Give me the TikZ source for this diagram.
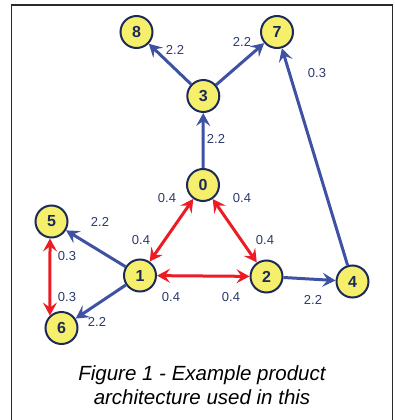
\documentclass[tikz,border=0pt]{standalone}
\usepackage{fontspec}
\setmainfont{Liberation Sans}
\usetikzlibrary{arrows.meta}
\definecolor{nodefill}{HTML}{F6EF6C}
\definecolor{nodeline}{HTML}{1C2A5A}
\definecolor{blueedge}{HTML}{3F51A3}
\definecolor{rededge}{HTML}{ED1C24}
\definecolor{labtext}{HTML}{2B3A6B}
\definecolor{framecol}{HTML}{2A2A2A}
\tikzset{
  vtx/.style={circle, draw=nodeline, line width=2pt, fill=nodefill, minimum size=32pt, inner sep=0pt,
    font=\fontsize{16}{16}\selectfont\bfseries, text=nodeline},
  tipstyle/.tip={Stealth[length=13pt,width=14pt,inset=5pt]},
  blueline/.style={draw=blueedge, line width=3pt, -tipstyle},
  redline/.style={draw=rededge, line width=3pt, tipstyle-tipstyle},
  wlab/.style={font=\fontsize{13}{13}\selectfont, text=labtext, inner sep=0pt},
  captext/.style={font=\fontsize{20.5}{24}\selectfont\itshape, align=center, inner sep=0pt}
}
\begin{document}
\begin{tikzpicture}[x=1pt,y=-1pt]
\useasboundingbox (0,0) rectangle (394,420);
\draw[framecol, line width=1.6pt] (11.5,436) -- (11.5,5) -- (392.3,5) -- (392.3,436);
% nodes
\node[vtx] (n8) at (136.5,32) {8};
\node[vtx] (n7) at (277,32) {7};
\node[vtx] (n3) at (203.3,96) {3};
\node[vtx] (n0) at (203,185) {0};
\node[vtx] (n5) at (51.5,221.5) {5};
\node[vtx] (n1) at (140,275.5) {1};
\node[vtx] (n2) at (266.5,276.5) {2};
\node[vtx] (n4) at (352.5,281.5) {4};
\node[vtx] (n6) at (61.5,328) {6};
% edges
\draw[blueline] (n3) -- (n8);
\draw[blueline] (n3) -- (n7);
\draw[blueline] (n0) -- (n3);
\draw[blueline] (n4) -- (n7);
\draw[blueline] (n1) -- (n5);
\draw[blueline] (n1) -- (n6);
\draw[blueline] (n2) -- (n4);
\draw[redline] (n0) -- (n1);
\draw[redline] (n0) -- (n2);
\draw[redline] (n1) -- (n2);
\draw[redline] (n5.265) -- (n6.133);
% labels
\node[wlab] (l38) at (175,50) {2.2};
\node[wlab] (l37) at (242,42) {2.2};
\node[wlab] (l47) at (317,73) {0.3};
\node[wlab] (l03) at (216,139) {2.2};
\node[wlab] (l01a) at (167,198) {0.4};
\node[wlab] (l02a) at (242,198) {0.4};
\node[wlab] (l15) at (100,222) {2.2};
\node[wlab] (l01b) at (141,240) {0.4};
\node[wlab] (l02b) at (265,240) {0.4};
\node[wlab] (l56a) at (67,256) {0.3};
\node[wlab] (l56b) at (67,297) {0.3};
\node[wlab] (l12a) at (171,297) {0.4};
\node[wlab] (l12b) at (231,297) {0.4};
\node[wlab] (l24) at (313,300) {2.2};
\node[wlab] (l16) at (97,322) {2.2};
% caption
\node[captext, anchor=base] (cap1) at (202,380) {Figure 1 - Example product};
\node[captext, anchor=base] (cap2) at (202,404) {architecture used in this};
\end{tikzpicture}
\end{document}
